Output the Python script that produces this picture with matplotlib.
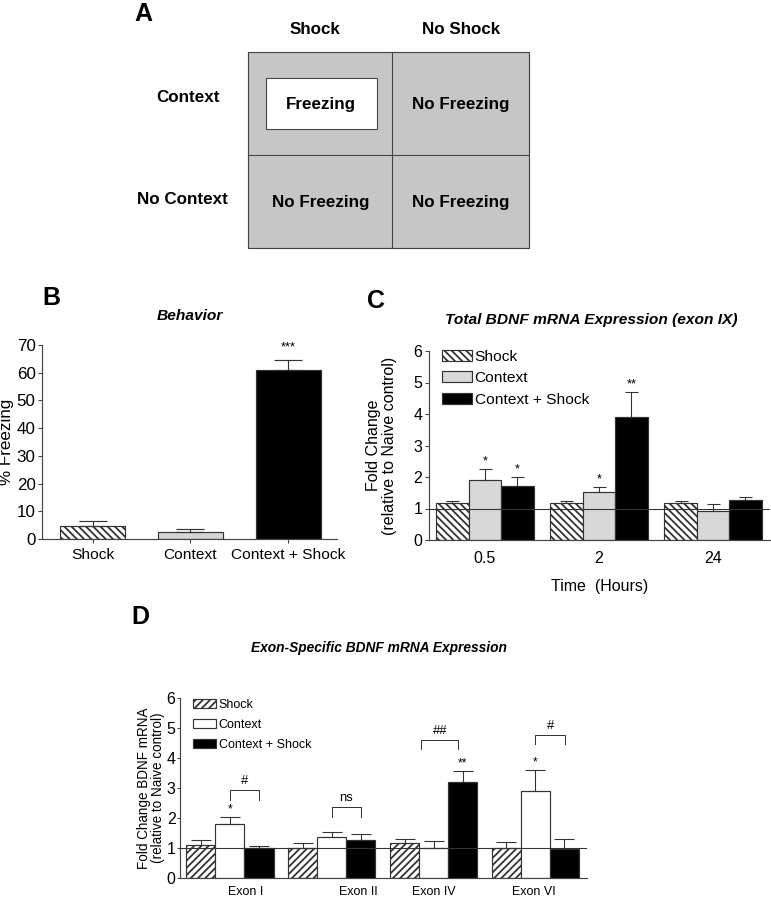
import matplotlib
matplotlib.use("Agg")
import matplotlib.pyplot as plt
import matplotlib.patches as mpatches
import numpy as np

# Figure is laid out in pixels (771 x 899)
W, H = 771, 899
DPI = 65


def pt(px):
    """Convert a pixel size into points for this dpi."""
    return px * 72.0 / DPI


plt.rcParams['font.family'] = ['Liberation Sans', 'DejaVu Sans']
plt.rcParams['hatch.linewidth'] = 2.0
plt.rcParams['hatch.color'] = '#222222'

# ---------------- data ----------------
# Panel A: 2x2 design
a_cols = ["Shock", "No Shock"]
a_rows = ["Context", "No Context"]
a_cells = [["Freezing", "No Freezing"], ["No Freezing", "No Freezing"]]

# Panel B: behavior
b_groups = ["Shock", "Context", "Context + Shock"]
b_mean = [4.7, 2.5, 60.9]
b_err = [1.8, 1.2, 3.7]
b_sig = ["", "", "***"]

# Panel C: total BDNF (exon IX)
c_times = ["0.5", "2", "24"]
c_series = ["Shock", "Context", "Context + Shock"]
c_shock = [1.18, 1.18, 1.18]
c_shock_err = [0.06, 0.06, 0.06]
c_context = [1.89, 1.52, 0.93]
c_context_err = [0.36, 0.15, 0.20]
c_cs = [1.71, 3.89, 1.27]
c_cs_err = [0.28, 0.82, 0.10]
c_sig = [["", "*", "*"], ["", "*", "**"], ["", "", ""]]

# Panel D: exon-specific BDNF
d_exons = ["Exon I", "Exon II", "Exon IV", "Exon VI"]
d_shock = [1.11, 1.0, 1.16, 1.0]
d_shock_err = [0.15, 0.16, 0.15, 0.20]
d_context = [1.81, 1.37, 1.0, 2.89]
d_context_err = [0.22, 0.16, 0.23, 0.71]
d_cs = [1.0, 1.27, 3.19, 0.96]
d_cs_err = [0.07, 0.20, 0.37, 0.34]
d_sig = [["", "*", ""], ["", "", ""], ["", "", "**"], ["", "*", ""]]
# brackets: (group, x offset start, x offset end, top, tick bottom, label)
d_brackets = [(0, 0.0, 0.285, 2.92, 2.59, "#"),
              (1, 0.0, 0.285, 2.37, 2.03, "ns"),
              (2, -0.12, 0.24, 4.59, 4.31, "##"),
              (3, 0.0, 0.29, 4.78, 4.48, "#")]
d_label_pos = [0.15, 1.26, 2.0, 2.98]

# ---------------- styles ----------------
EDGE = '#333333'
SPINE = '#444444'
GRAY_A = '#c6c6c6'
GRAY_B = '#d4d4d4'
GRAY_C = '#d8d8d8'

fig = plt.figure(figsize=(W / DPI, H / DPI), dpi=DPI)
fig.patch.set_facecolor('white')


def frac_rect(x0, y0, x1, y1):
    return [x0 / W, 1 - y1 / H, (x1 - x0) / W, (y1 - y0) / H]


def style_axes(ax, fs):
    for s in ['top', 'right']:
        ax.spines[s].set_visible(False)
    for s in ['left', 'bottom']:
        ax.spines[s].set_color(SPINE)
        ax.spines[s].set_linewidth(1.3)
    ax.tick_params(axis='both', colors=SPINE, labelcolor='black',
                   labelsize=pt(fs), width=1.2, length=pt(4), pad=pt(2.5))


# ---------------- overlay (panel A + labels) ----------------
ov = fig.add_axes([0, 0, 1, 1], zorder=5)
ov.set_xlim(0, W)
ov.set_ylim(H, 0)
ov.axis('off')
ov.patch.set_alpha(0)

gx = [248, 392, 529]
gy = [52, 155, 248]
ov.add_patch(mpatches.Rectangle((gx[0], gy[0]), gx[2] - gx[0], gy[2] - gy[0],
                                facecolor=GRAY_A, edgecolor='#444444', lw=1.3))
ov.plot([gx[1], gx[1]], [gy[0], gy[2]], color='#444444', lw=1.2)
ov.plot([gx[0], gx[2]], [gy[1], gy[1]], color='#444444', lw=1.2)
ov.add_patch(mpatches.Rectangle((266, 78), 111, 51, facecolor='white',
                                edgecolor='#444444', lw=1.2))
col_c = [321, 461]
row_c = [104, 203]
for i in range(2):
    ov.text(col_c[i] - 6 + 6 * i, 30, a_cols[i], ha='center', va='center',
            fontsize=pt(17), fontweight='bold')
    ov.text(188 - 6 * i, [98, 200][i], a_rows[i], ha='center', va='center',
            fontsize=pt(17), fontweight='bold')
    for j in range(2):
        ov.text(col_c[j], row_c[i], a_cells[i][j], ha='center', va='center',
                fontsize=pt(17), fontweight='bold')

for lab, (x, y) in zip("ABCD", [(143, 14), (51, 298), (376, 301), (140, 617)]):
    ov.text(x, y, lab, ha='center', va='center', fontsize=pt(25),
            fontweight='bold')

ov.text(190, 316, "Behavior", ha='center', va='center', fontsize=pt(15.5),
        fontweight='bold', style='italic')
ov.text(591, 320, "Total BDNF mRNA Expression (exon IX)", ha='center',
        va='center', fontsize=pt(15.5), fontweight='bold', style='italic')
ov.text(379, 648, "Exon-Specific BDNF mRNA Expression", ha='center',
        va='center', fontsize=pt(13.8), fontweight='bold', style='italic')

# ---------------- panel B ----------------
axb = fig.add_axes(frac_rect(42, 345, 337, 539))
xb = np.arange(len(b_groups))
b_faces = ['white', GRAY_B, 'black']
b_hatch = ['\\\\\\', None, None]
for i in range(len(b_groups)):
    axb.bar(xb[i], b_mean[i], 0.665, color=b_faces[i], edgecolor=EDGE,
            lw=1.3, hatch=b_hatch[i], zorder=2)
    axb.errorbar(xb[i], b_mean[i], yerr=[[0], [b_err[i]]], color=EDGE,
                 lw=1.3, capsize=pt(14), capthick=1.3, zorder=3)
    if b_sig[i]:
        axb.text(xb[i], b_mean[i] + b_err[i] + 2.5, b_sig[i], ha='center',
                 va='bottom', fontsize=pt(13))
axb.set_xlim(-0.52, 2.5)
axb.set_ylim(0, 70)
axb.set_yticks(np.arange(0, 71, 10))
axb.set_xticks(xb)
axb.set_xticklabels(b_groups)
style_axes(axb, 17)
axb.tick_params(axis='x', labelsize=pt(15.5), pad=pt(5))
axb.set_ylabel("% Freezing", fontsize=pt(17))
axb.yaxis.set_label_coords(-0.095, 0.5)

# ---------------- panel C ----------------
axc = fig.add_axes(frac_rect(429, 351, 770, 540))
xc = np.arange(len(c_times))
wc = 0.285
c_vals = [c_shock, c_context, c_cs]
c_errs = [c_shock_err, c_context_err, c_cs_err]
c_faces = ['white', GRAY_C, 'black']
c_hatch = ['\\\\\\', None, None]
handles_c = []
for k in range(3):
    pos = xc + (k - 1) * wc
    bars = axc.bar(pos, c_vals[k], wc, color=c_faces[k], edgecolor=EDGE,
                   lw=1.3, hatch=c_hatch[k], zorder=2, label=c_series[k])
    handles_c.append(bars)
    axc.errorbar(pos, c_vals[k], yerr=[np.zeros(3), c_errs[k]], fmt='none',
                 ecolor=EDGE, elinewidth=1.2, capsize=pt(6.5), capthick=1.2,
                 zorder=3)
    for g in range(3):
        if c_sig[g][k]:
            axc.text(pos[g], c_vals[k][g] + c_errs[k][g] + 0.05, c_sig[g][k],
                     ha='center', va='bottom', fontsize=pt(13))
axc.axhline(1, color='#333333', lw=1.2, zorder=4)
axc.set_xlim(-0.491, 2.5)
axc.set_ylim(0, 6)
axc.set_yticks(range(7))
axc.set_xticks(xc)
axc.set_xticklabels(c_times)
style_axes(axc, 16)
axc.tick_params(axis='x', length=0, pad=pt(11))
axc.set_ylabel("Fold Change\n(relative to Naive control)", fontsize=pt(16),
               linespacing=1.05)
axc.yaxis.set_label_coords(-0.094, 0.5)
axc.set_xlabel("Time  (Hours)", fontsize=pt(16), labelpad=pt(13))
axc.legend(handles=handles_c, loc='upper left', bbox_to_anchor=(0.02, 1.04),
           frameon=False, fontsize=pt(15.5), handlelength=1.95,
           handleheight=0.72, handletextpad=0.15, labelspacing=0.48,
           borderaxespad=0)

# ---------------- panel D ----------------
axd = fig.add_axes(frac_rect(180, 698, 587, 878))
xd = np.arange(len(d_exons))
wd = 0.285
d_vals = [d_shock, d_context, d_cs]
d_errs = [d_shock_err, d_context_err, d_cs_err]
d_faces = ['white', 'white', 'black']
d_hatch = ['///', None, None]
handles_d = []
for k in range(3):
    pos = xd + (k - 1) * wd
    bars = axd.bar(pos, d_vals[k], wd, color=d_faces[k], edgecolor=EDGE,
                   lw=1.3, hatch=d_hatch[k], zorder=2, label=c_series[k])
    handles_d.append(bars)
    axd.errorbar(pos, d_vals[k], yerr=[np.zeros(4), d_errs[k]], fmt='none',
                 ecolor=EDGE, elinewidth=1.2, capsize=pt(10), capthick=1.2,
                 zorder=3)
    for g in range(4):
        if d_sig[g][k]:
            axd.text(pos[g], d_vals[k][g] + d_errs[k][g] + 0.05, d_sig[g][k],
                     ha='center', va='bottom', fontsize=pt(12))
for g, x0, x1, top, bot, lab in d_brackets:
    axd.plot([g + x0, g + x0, g + x1, g + x1], [bot, top, top, bot],
             color='#333333', lw=1.1, zorder=3)
    axd.text(g + (x0 + x1) / 2, top + 0.1, lab, ha='center', va='bottom',
             fontsize=pt(13))
axd.axhline(1, color='#333333', lw=1.2, zorder=4)
axd.set_xlim(-0.491, 3.507)
axd.set_ylim(0, 6)
axd.set_yticks(range(7))
axd.set_xticks(d_label_pos)
axd.set_xticklabels(d_exons)
style_axes(axd, 16)
axd.tick_params(axis='y', length=pt(3), pad=pt(1.5))
axd.tick_params(axis='x', length=0, labelsize=pt(12.5), pad=pt(8))
axd.set_ylabel("Fold Change BDNF mRNA\n(relative to Naive control)",
               fontsize=pt(13.5), linespacing=1.0)
axd.yaxis.set_label_coords(-0.036, 0.5)
axd.legend(handles=handles_d, loc='upper left', bbox_to_anchor=(0.02, 1.023),
           frameon=False, fontsize=pt(12.5), handlelength=1.85,
           handleheight=0.8, handletextpad=0.2, labelspacing=0.62,
           borderaxespad=0)

fig.savefig("out.png", dpi=DPI)
